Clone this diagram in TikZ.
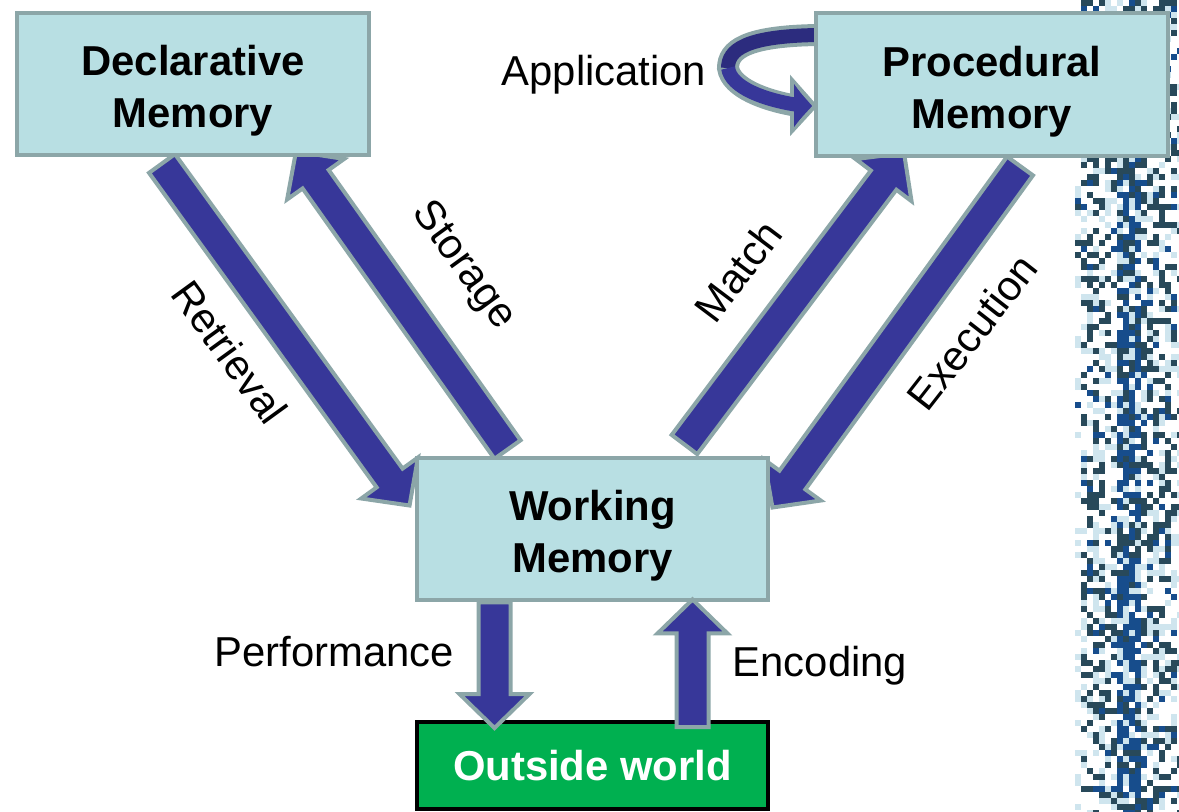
\documentclass[tikz,border=0pt]{standalone}
\usepackage{fontspec}
\setmainfont{Liberation Sans}
\usetikzlibrary{calc, positioning, backgrounds}

\definecolor{boxfill}{HTML}{B8DFE3}
\definecolor{boxline}{HTML}{8CA6A8}
\definecolor{arrowblue}{HTML}{373799}
\definecolor{backblue}{HTML}{2C2C7E}
\definecolor{worldgreen}{HTML}{00B050}
\definecolor{noisedeep}{HTML}{174D8C}
\definecolor{noisedark}{HTML}{28495A}
\definecolor{noiselight}{HTML}{CFE5EE}

\newcommand{\tallline}{\rule{0pt}{25pt}}
\newcommand{\fatarrow}[2]{%
        \path ($(#2)!0.68cm!(#1)$) coordinate (fa-base);
        \filldraw[fat] ($(#1)!0.32cm!90:(#2)$) -- ($(fa-base)!0.32cm!-90:(#1)$)
            -- ($(fa-base)!0.7cm!-90:(#1)$) -- (#2) -- ($(fa-base)!0.7cm!90:(#1)$)
            -- ($(fa-base)!0.32cm!90:(#1)$) -- ($(#1)!0.32cm!-90:(#2)$) -- cycle;}

\begin{document}
\begin{tikzpicture}[
        x=0.02cm, y=-0.02cm,
        memory/.style={draw=boxline, fill=boxfill, line width=0.08cm,
            minimum width=7.04cm, minimum height=2.86cm, align=center,
            font=\fontsize{23.8}{29.5}\selectfont\bfseries},
        world/.style={draw=black, fill=worldgreen, line width=0.08cm, text=white,
            minimum width=7.04cm, minimum height=1.74cm,
            font=\fontsize{23.8}{29.5}\selectfont\bfseries},
        fat/.style={draw=boxline, fill=arrowblue, line width=0.08cm},
        lbl/.style={font=\fontsize{23.8}{28}\selectfont},
    ]
        \useasboundingbox (0,0) rectangle (1179,811);

        \node[memory] (decl) at (193,84) {\tallline Declarative\\Memory};
        \node[memory] (proc) at (992,84.5) {\tallline Procedural\\Memory};
        \node[memory] (work) at (592.5,529) {\tallline Working\\Memory};
        \node[world] (out) at (592.5,765.5) {Outside world};

        \begin{scope}[on background layer]
        % noisy strip on the right
        \pgfmathsetseed{42}
        \foreach \i in {0,...,17} {
            \foreach \j in {0,...,135} {
                \pgfmathsetmacro{\d}{abs(\i-8.5)}
                \pgfmathsetmacro{\p}{\d<2 ? 0.7 : (\d<8 ? 0.33 : 0.06)}
                \pgfmathsetmacro{\pl}{\p+0.18}
                \pgfmathsetmacro{\r}{rnd}
                \ifdim\r pt<\p pt
                    \pgfmathsetmacro{\q}{\d<2 ? 0.75 : 0.2}
                    \pgfmathsetmacro{\s}{rnd}
                    \ifdim\s pt<\q pt
                        \fill[noisedeep] ({1075+6*\i},{6*\j}) rectangle ++(6,6);
                    \else
                        \fill[noisedark] ({1075+6*\i},{6*\j}) rectangle ++(6,6);
                    \fi
                \else
                    \ifdim\r pt<\pl pt
                        \fill[noiselight] ({1075+6*\i},{6*\j}) rectangle ++(6,6);
                    \fi
                \fi
            }
        }

        % diagonal arrows under the boxes
        \coordinate (ret-a) at ($(decl.south)+(-31,6)$);
        \coordinate (ret-b) at ($(work.north west)+(-5,50)$);
        \coordinate (sto-a) at ($(work.north west)+(93,-6)$);
        \coordinate (sto-b) at ($(decl.south east)+(-75,-6)$);
        \coordinate (mat-a) at ($(work.north east)+(-86,-11)$);
        \coordinate (mat-b) at ($(proc.south west)+(90,-5)$);
        \coordinate (exe-a) at ($(proc.south)+(28,8)$);
        \coordinate (exe-b) at ($(work.north east)+(2,52)$);
        \fatarrow{ret-a}{ret-b}
        \fatarrow{sto-a}{sto-b}
        \fatarrow{mat-a}{mat-b}
        \fatarrow{exe-a}{exe-b}

        % application loop
        \coordinate (app-a) at ($(proc.north west)+(4,24)$);
        \coordinate (app-m) at ($(proc.north west)+(-86,57)$);
        \coordinate (app-b) at ($(proc.north west)+(-22,94)$);
        \draw[boxline, line width=0.44cm] (app-a) .. controls (745,36) and (728,50) .. (app-m)
            .. controls (731,88) and (765,100) .. (app-b);
        \filldraw[fat] ($(app-b)+(0,-25)$) -- ($(proc.north west)+(1,95)$) -- ($(app-b)+(0,26)$) -- cycle;
        \draw[backblue, line width=0.28cm] (app-a) .. controls (745,36) and (728,50) .. (app-m);
        \draw[arrowblue, line width=0.28cm] (app-m) .. controls (731,88) and (765,100) .. ($(app-b)+(6,0)$);
        \fill[arrowblue] ($(app-b)+(2,-21)$) -- ($(proc.north west)+(-4,95)$) -- ($(app-b)+(2,22)$) -- cycle;
        \end{scope}

        % vertical arrows over the boxes
        \coordinate (per-a) at ($(work.south)+(-98,0)$);
        \coordinate (per-b) at ($(out.north)+(-98,8)$);
        \coordinate (enc-a) at ($(out.north)+(100,7)$);
        \coordinate (enc-b) at ($(work.south)+(100,-3)$);
        \fatarrow{per-a}{per-b}
        \fatarrow{enc-a}{enc-b}

        \node[lbl] (app) at (604,74.5) {Application};
        \node[lbl] (perf) at (334,652) {Performance};
        \node[lbl] (enc) at (820,666) {Encoding};
        \node[lbl, rotate=-54] (retr) at (230,352) {Retrieval};
        \node[lbl, rotate=-54] (stor) at (463,266) {Storage};
        \node[lbl, rotate=53] (mat) at (738,271) {Match};
        \node[lbl, rotate=52] (exec) at (972,332) {Execution};
\end{tikzpicture}
\end{document}
